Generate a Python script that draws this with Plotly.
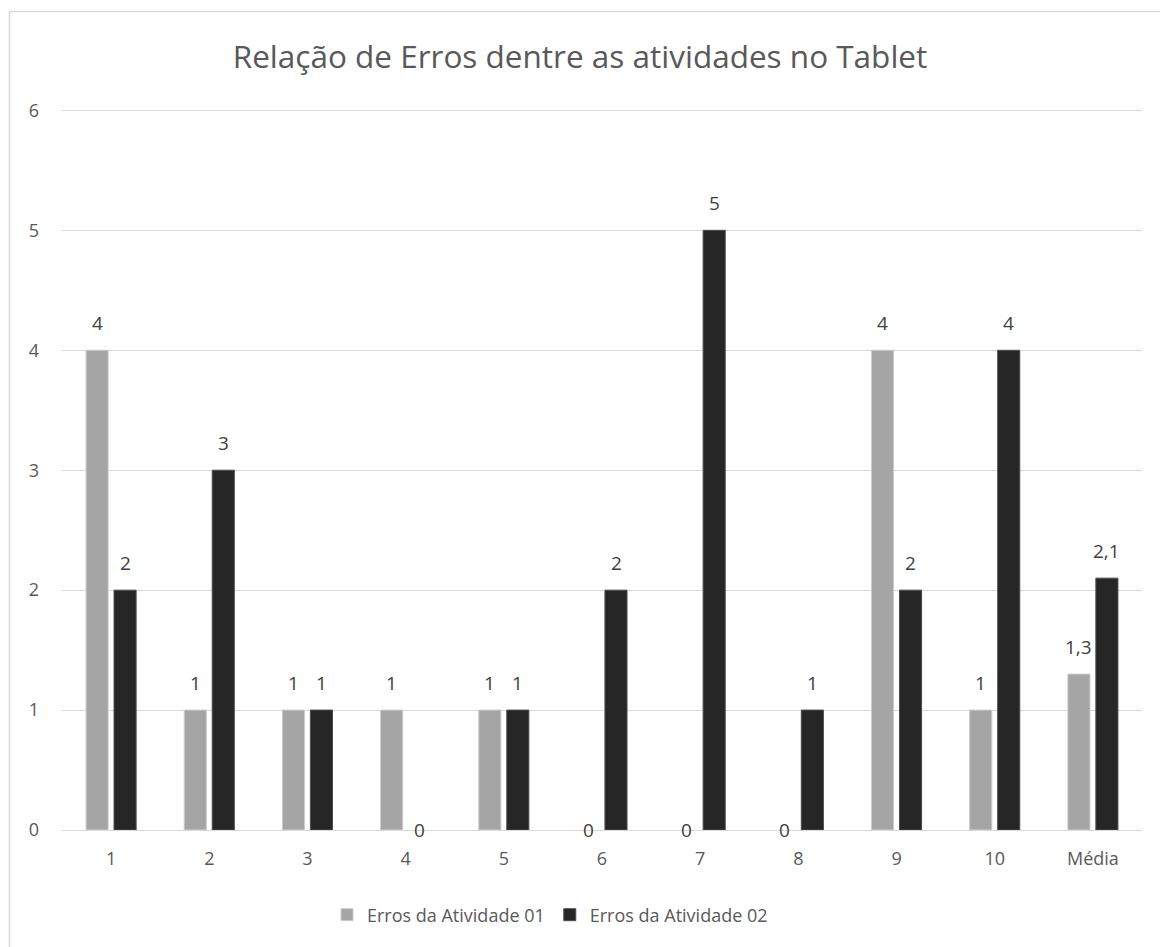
import plotly.graph_objects as go

categories = ["1", "2", "3", "4", "5", "6", "7", "8", "9", "10", "Média"]
erros_atividade_01 = [4, 1, 1, 1, 1, 0, 0, 0, 4, 1, 1.3]
erros_atividade_02 = [2, 3, 1, 0, 1, 2, 5, 1, 2, 4, 2.1]
series_names = ["Erros da Atividade 01", "Erros da Atividade 02"]
y_ticks = [0, 1, 2, 3, 4, 5, 6]

FONT = "Open Sans"
TXT = "#595959"
LBL = "#404040"


def fmt(v):
    return f"{v:g}".replace(".", ",")


fig = go.Figure()
fig.add_trace(go.Bar(
    x=categories, y=erros_atividade_01, name=series_names[0],
    marker=dict(color="#a5a5a5",
                line=dict(color="#cccccc", width=[1 if v > 0 else 0 for v in erros_atividade_01])),
))
fig.add_trace(go.Bar(
    x=categories, y=erros_atividade_02, name=series_names[1],
    marker=dict(color="#262626",
                line=dict(color="#4d4d4d", width=[1 if v > 0 else 0 for v in erros_atividade_02])),
))

annotations = []
for vals, shift in ((erros_atividade_01, -14), (erros_atividade_02, 14)):
    for i, v in enumerate(vals):
        annotations.append(dict(
            x=i, y=v, xref="x", yref="y", text=fmt(v), showarrow=False,
            xshift=shift, yshift=(12 if v > 0 else 0), yanchor=("bottom" if v > 0 else "middle"),
            font=dict(family=FONT, size=19, color=LBL),
        ))

fig.update_layout(
    width=1160, height=947,
    margin=dict(l=62, r=18, t=108, b=117),
    paper_bgcolor="white", plot_bgcolor="white",
    barmode="group", bargap=0.43, bargroupgap=0.21,
    title=dict(text="Relação de Erros dentre as atividades no Tablet",
               x=0.5, xanchor="center", y=1 - 57 / 947, yanchor="middle",
               font=dict(family=FONT, size=31.5, color=TXT)),
    font=dict(family=FONT, size=18, color=TXT),
    showlegend=True,
    legend=dict(orientation="h", x=(550 - 62) / 1080, xanchor="center",
                y=(830 - 915) / 722, yanchor="middle",
                font=dict(family=FONT, size=18, color=TXT),
                traceorder="normal"),
    annotations=annotations,
    shapes=[dict(type="rect", xref="paper", yref="paper",
                 x0=(9.5 - 62) / 1080, x1=(1200 - 62) / 1080,
                 y0=(830 - 1000) / 722, y1=(830 - 11.5) / 722,
                 line=dict(color="#d9d9d9", width=1.5), layer="below")],
)
fig.update_xaxes(showgrid=False, showline=False, ticks="", ticklabelstandoff=16,
                 tickfont=dict(family=FONT, size=18, color=TXT))
fig.update_yaxes(range=[0, 6.02], tickvals=y_ticks, showgrid=True, gridcolor="#d9d9d9",
                 gridwidth=1, zeroline=True, zerolinecolor="#d9d9d9", zerolinewidth=1,
                 showline=False, ticks="", ticklabelstandoff=22,
                 tickfont=dict(family=FONT, size=18, color=TXT))

fig.write_html("out.html", config={"displayModeBar": False},
               post_script="document.body.style.margin='0';document.body.style.padding='0';")
